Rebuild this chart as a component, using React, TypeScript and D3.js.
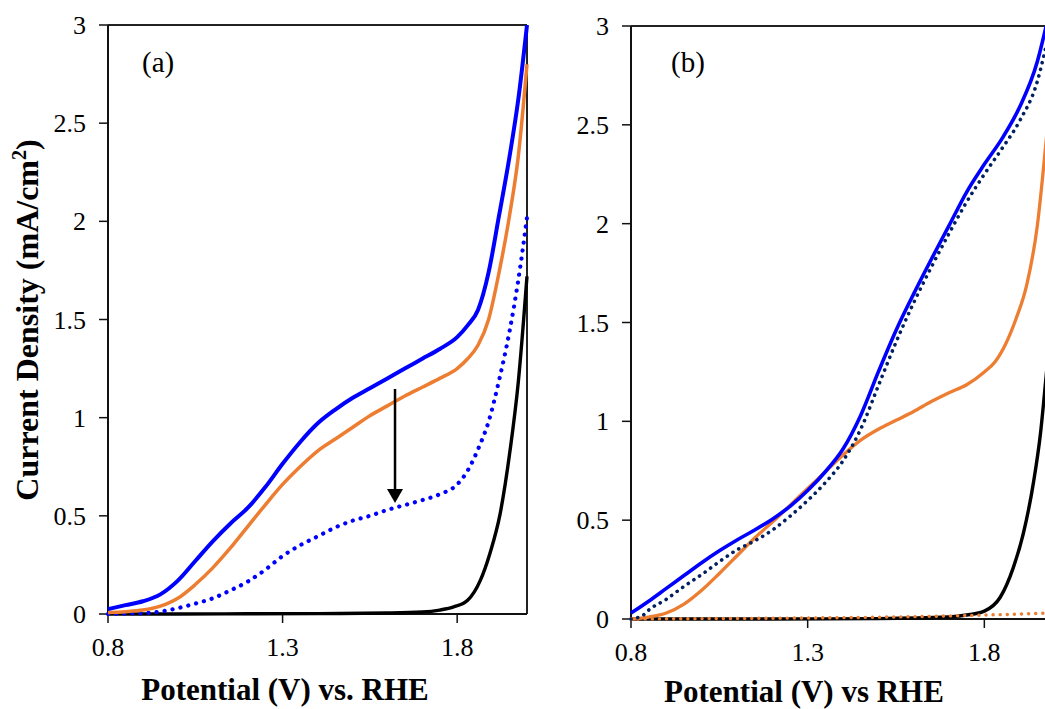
import React from "react";
import * as d3 from "d3";

// ---------- Panel (a) data ----------
const aBlueX = [0.8, 0.85, 0.9, 0.95, 1.0, 1.05, 1.1, 1.15, 1.2, 1.25, 1.3, 1.35, 1.4, 1.45, 1.5, 1.55, 1.6, 1.65, 1.7, 1.75, 1.8, 1.83, 1.86, 1.89, 1.92, 1.95, 1.975, 2.0];
const aBlueY = [0.025, 0.045, 0.065, 0.1, 0.17, 0.27, 0.37, 0.46, 0.54, 0.645, 0.765, 0.875, 0.97, 1.04, 1.1, 1.15, 1.2, 1.25, 1.3, 1.35, 1.41, 1.47, 1.55, 1.74, 2.03, 2.33, 2.62, 3.0];

const aOrangeX = [0.8, 0.85, 0.9, 0.95, 1.0, 1.05, 1.1, 1.15, 1.2, 1.25, 1.3, 1.35, 1.4, 1.45, 1.5, 1.55, 1.6, 1.65, 1.7, 1.75, 1.8, 1.83, 1.86, 1.89, 1.92, 1.95, 1.975, 2.0];
const aOrangeY = [0.008, 0.012, 0.02, 0.04, 0.08, 0.15, 0.235, 0.335, 0.445, 0.555, 0.66, 0.75, 0.83, 0.89, 0.95, 1.01, 1.06, 1.11, 1.155, 1.2, 1.25, 1.3, 1.37, 1.5, 1.74, 2.03, 2.33, 2.8];

const aDotX = [0.8, 0.85, 0.9, 0.95, 1.0, 1.05, 1.1, 1.15, 1.2, 1.25, 1.3, 1.35, 1.4, 1.45, 1.5, 1.55, 1.6, 1.65, 1.7, 1.75, 1.8, 1.83, 1.86, 1.89, 1.92, 1.95, 1.975, 2.0];
const aDotY = [0.0, 0.002, 0.004, 0.012, 0.03, 0.053, 0.08, 0.12, 0.165, 0.225, 0.295, 0.35, 0.395, 0.44, 0.475, 0.5, 0.53, 0.555, 0.58, 0.61, 0.66, 0.73, 0.84, 0.98, 1.19, 1.44, 1.7, 2.02];

const aBlackX = [0.8, 1.0, 1.2, 1.4, 1.6, 1.7, 1.75, 1.79, 1.83, 1.866, 1.894, 1.923, 1.952, 1.975, 2.0];
const aBlackY = [0.0, 0.0, 0.001, 0.002, 0.005, 0.01, 0.02, 0.036, 0.07, 0.17, 0.31, 0.51, 0.84, 1.18, 1.72];

// arrow annotation in panel (a): [x, yStart, yEnd]
const aArrow = [1.622, 1.146, 0.565];

// ---------- Panel (b) data ----------
const bBlueX = [0.8, 0.85, 0.9, 0.95, 1.0, 1.05, 1.1, 1.15, 1.2, 1.25, 1.3, 1.35, 1.4, 1.45, 1.5, 1.55, 1.6, 1.65, 1.7, 1.75, 1.8, 1.85, 1.9, 1.95, 1.975, 2.0];
const bBlueY = [0.03, 0.09, 0.155, 0.22, 0.285, 0.345, 0.4, 0.45, 0.505, 0.57, 0.65, 0.745, 0.86, 1.03, 1.25, 1.46, 1.645, 1.82, 1.99, 2.16, 2.3, 2.43, 2.59, 2.82, 3.0, 3.2];

const bNavyDotX = [0.8, 0.835, 0.85, 0.9, 0.95, 1.0, 1.05, 1.1, 1.15, 1.2, 1.25, 1.3, 1.35, 1.4, 1.45, 1.5, 1.55, 1.6, 1.65, 1.7, 1.75, 1.8, 1.85, 1.9, 1.95, 1.975, 2.0];
const bNavyDotY = [0.0, 0.02, 0.045, 0.1, 0.165, 0.225, 0.29, 0.35, 0.395, 0.45, 0.52, 0.6, 0.69, 0.8, 0.96, 1.18, 1.4, 1.6, 1.78, 1.95, 2.11, 2.25, 2.38, 2.52, 2.72, 2.9, 3.1];

const bOrangeX = [0.8, 0.85, 0.9, 0.95, 1.0, 1.05, 1.1, 1.15, 1.2, 1.25, 1.3, 1.35, 1.4, 1.45, 1.5, 1.55, 1.6, 1.65, 1.7, 1.75, 1.8, 1.83, 1.86, 1.89, 1.92, 1.95, 1.975, 2.0];
const bOrangeY = [0.0, 0.01, 0.03, 0.075, 0.145, 0.23, 0.32, 0.41, 0.49, 0.575, 0.66, 0.745, 0.83, 0.905, 0.96, 1.005, 1.05, 1.1, 1.145, 1.185, 1.25, 1.3, 1.39, 1.52, 1.69, 1.99, 2.42, 2.9];

const bOrangeDotX = [0.8, 1.0, 1.2, 1.4, 1.6, 1.8, 1.9, 2.0];
const bOrangeDotY = [0.0, 0.002, 0.004, 0.007, 0.012, 0.02, 0.025, 0.032];

const bBlackX = [0.8, 1.2, 1.5, 1.7, 1.75, 1.8, 1.845, 1.882, 1.91, 1.939, 1.959, 1.975, 2.0];
const bBlackY = [0.0, 0.0, 0.002, 0.01, 0.02, 0.04, 0.11, 0.26, 0.43, 0.69, 0.94, 1.23, 1.7];

// ---------- axes ----------
const xTicks = [0.8, 1.3, 1.8];
const yTicks = [0, 0.5, 1, 1.5, 2, 2.5, 3];
const xDomain = [0.8, 2.0];
const yDomain = [0, 3];

const FONT = '"Liberation Serif"';
const tickStyle = { fontFamily: FONT, fontSize: 26 };
const labelStyle = { fontFamily: FONT, fontSize: 29 };
const titleStyle = { fontFamily: FONT, fontSize: 31, fontWeight: 700 };
const yTitleStyle = { fontFamily: FONT, fontSize: 32, fontWeight: 700 };

type Series = { xs: number[]; ys: number[]; color: string; width: number; dotted?: boolean; dash?: string };

function zip(xs: number[], ys: number[]): [number, number][] {
  return xs.map((x, i) => [x, ys[i]]);
}

function Panel(props: {
  id: string;
  left: number; right: number; top: number; bottom: number;
  series: Series[];
  label: string; labelX: number;
  xTitle: string; xTitleX: number; xTitleY: number;
  rightBorder: boolean;
  arrow?: number[];
}) {
  const { id, left, right, top, bottom, series } = props;
  const x = d3.scaleLinear().domain(xDomain).range([left, right]);
  const y = d3.scaleLinear().domain(yDomain).range([bottom, top]);
  const line = d3.line<[number, number]>().x(d => x(d[0])).y(d => y(d[1])).curve(d3.curveMonotoneX);
  return (
    <g>
      <defs>
        <clipPath id={`clip-${id}`}>
          <rect x={left - 3} y={top} width={right - left + 6} height={bottom - top + 3} />
        </clipPath>
      </defs>
      <line x1={left} x2={right} y1={top} y2={top} stroke="#222" strokeWidth={2} />
      {props.rightBorder && <line x1={right} x2={right} y1={top} y2={bottom} stroke="#222" strokeWidth={2} />}
      <line x1={left} x2={right} y1={bottom} y2={bottom} stroke="#111" strokeWidth={2} />
      <line x1={left} x2={left} y1={top} y2={bottom + 1} stroke="#111" strokeWidth={2} />
      {yTicks.map(t => (
        <g key={`y${t}`}>
          <line x1={left - 9} x2={left} y1={y(t)} y2={y(t)} stroke="#111" strokeWidth={1.5} />
          <text x={left - 22} y={y(t) + 9} textAnchor="end" style={tickStyle} fill="#000">{String(t)}</text>
        </g>
      ))}
      {xTicks.map(t => (
        <g key={`x${t}`}>
          <line x1={x(t)} x2={x(t)} y1={bottom} y2={bottom + 9} stroke="#111" strokeWidth={1.5} />
          <text x={x(t)} y={bottom + 42} textAnchor="middle" style={tickStyle} fill="#000">{t.toFixed(1)}</text>
        </g>
      ))}
      <g clipPath={`url(#clip-${id})`}>
        {series.map((s, i) => (
          <path key={i} d={line(zip(s.xs, s.ys)) || ""} fill="none" stroke={s.color} strokeWidth={s.width}
            strokeLinecap={s.dotted ? "round" : "butt"} strokeLinejoin="round"
            strokeDasharray={s.dotted ? (s.dash || "0.1 7.5") : undefined} />
        ))}
      </g>
      {props.arrow && (
        <g>
          <line x1={x(props.arrow[0])} x2={x(props.arrow[0])} y1={y(props.arrow[1])} y2={y(props.arrow[2]) - 12} stroke="#000" strokeWidth={2.5} />
          <path d={`M${x(props.arrow[0]) - 8},${y(props.arrow[2]) - 14} L${x(props.arrow[0]) + 8},${y(props.arrow[2]) - 14} L${x(props.arrow[0])},${y(props.arrow[2])} Z`} fill="#000" />
        </g>
      )}
      <text x={props.labelX} y={72} style={labelStyle} fill="#000">{props.label}</text>
      <text x={props.xTitleX} y={props.xTitleY} textAnchor="middle" style={titleStyle} fill="#000">{props.xTitle}</text>
    </g>
  );
}

export default function App() {
  const seriesA: Series[] = [
    { xs: aBlackX, ys: aBlackY, color: "#000000", width: 3.4 },
    { xs: aDotX, ys: aDotY, color: "#0000FF", width: 4.2, dotted: true, dash: "0.1 8" },
    { xs: aOrangeX, ys: aOrangeY, color: "#ED7D31", width: 3.5 },
    { xs: aBlueX, ys: aBlueY, color: "#0000FF", width: 4 },
  ];
  const seriesB: Series[] = [
    { xs: bBlackX, ys: bBlackY, color: "#000000", width: 3.4 },
    { xs: bOrangeDotX, ys: bOrangeDotY, color: "#ED7D31", width: 3.4, dotted: true, dash: "0.1 7" },
    { xs: bOrangeX, ys: bOrangeY, color: "#ED7D31", width: 3.3 },
    { xs: bNavyDotX, ys: bNavyDotY, color: "#002060", width: 3.6, dotted: true, dash: "0.1 6.7" },
    { xs: bBlueX, ys: bBlueY, color: "#0000FF", width: 3.6 },
  ];
  return (
    <svg width={1045} height={709} style={{ position: "absolute", left: 0, top: 0 }}>
      <rect x={0} y={0} width={1045} height={709} fill="#fff" />
      <Panel id="a" left={108} right={527} top={25} bottom={614} series={seriesA}
        label="(a)" labelX={142} xTitle="Potential (V) vs. RHE" xTitleX={285} xTitleY={700}
        rightBorder={true} arrow={aArrow} />
      <Panel id="b" left={631} right={1055} top={26} bottom={619} series={seriesB}
        label="(b)" labelX={671} xTitle="Potential (V) vs RHE" xTitleX={804} xTitleY={702}
        rightBorder={true} />
      <text transform="translate(38,320) rotate(-90)" textAnchor="middle" style={yTitleStyle} fill="#000">
        Current Density (mA/cm<tspan style={{ fontSize: 20 }} dy={-12}>2</tspan><tspan dy={12}>)</tspan>
      </text>
    </svg>
  );
}
